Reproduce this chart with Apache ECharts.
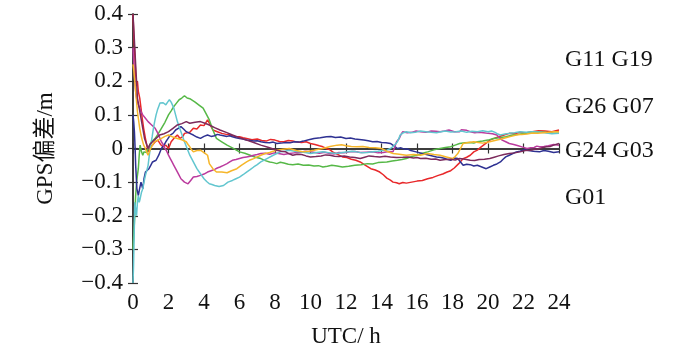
<!DOCTYPE html>
<html><head><meta charset="utf-8">
<script src="https://cdn.jsdelivr.net/npm/echarts@6/dist/echarts.min.js"></script>
<style>html,body{margin:0;padding:0;background:#fff}#c{width:700px;height:353px}</style>
</head><body><div id="c"></div>
<script>
var xTicks = [0,2,4,6,8,10,12,14,16,18,20,22,24];
var yTicks = [-0.4,-0.3,-0.2,-0.1,0,0.1,0.2,0.3,0.4];
var satLabels = ["G11 G19","G26 G07","G24 G03","G01"];
var labelY = [0.265, 0.125, -0.007, -0.145];
var seriesNames = ["G01","G03","G07","G11","G19","G24","G26"];

var red = [[0,0.40],[0.05,0.33],[0.1,0.28],[0.15,0.22],[0.2,0.19],[0.25,0.2],[0.3,0.17],[0.38,0.15],[0.45,0.12],[0.52,0.09],[0.6,0.06],[0.7,0.03],[0.85,-0.01],[0.95,0.005],[1.1,0.01],[1.25,0.02],[1.4,0.025],[1.55,0.012],[1.7,0.005],[1.85,0.01],[2,0],[2.15,0.02],[2.3,0.03],[2.4,0.025],[2.5,0.04],[2.65,0.03],[2.8,0.035],[2.9,0.045],[3,0.05],[3.2,0.048],[3.4,0.06],[3.6,0.058],[3.8,0.07],[4,0.068],[4.2,0.085],[4.35,0.07],[4.5,0.055],[4.75,0.05],[5,0.045],[5.25,0.042],[5.5,0.04],[5.75,0.036],[6,0.035],[6.2,0.032],[6.4,0.03],[6.7,0.026],[7,0.028],[7.25,0.024],[7.5,0.022],[7.75,0.027],[8,0.025],[8.25,0.021],[8.5,0.02],[8.75,0.024],[9,0.022],[9.25,0.019],[9.5,0.018],[9.75,0.02],[10,0.015],[10.25,0.012],[10.5,0.008],[10.7,0.005],[10.9,0],[11.1,-0.004],[11.3,-0.012],[11.55,-0.018],[11.8,-0.025],[12.05,-0.027],[12.3,-0.032],[12.55,-0.035],[12.8,-0.04],[13.1,-0.05],[13.4,-0.06],[13.65,-0.064],[13.9,-0.07],[14.1,-0.078],[14.3,-0.088],[14.5,-0.094],[14.65,-0.1],[14.85,-0.102],[15,-0.105],[15.2,-0.101],[15.4,-0.103],[15.7,-0.1],[16,-0.097],[16.3,-0.095],[16.6,-0.09],[16.9,-0.086],[17.2,-0.08],[17.45,-0.076],[17.7,-0.07],[17.9,-0.066],[18.1,-0.058],[18.35,-0.045],[18.6,-0.03],[18.8,-0.026],[19,-0.02],[19.2,-0.01],[19.4,-0.005],[19.6,0.004],[19.8,0.012],[19.95,0.018],[20.1,0.025],[20.35,0.03],[20.6,0.035],[20.9,0.04],[21.2,0.045],[21.5,0.044],[21.8,0.048],[22.1,0.046],[22.5,0.05],[22.85,0.053],[23.2,0.052],[23.6,0.05],[24,0.055]];
var green = [[0,-0.3],[0.05,-0.25],[0.1,-0.2],[0.15,-0.14],[0.2,-0.1],[0.25,-0.08],[0.3,-0.06],[0.35,-0.02],[0.4,0.01],[0.48,-0.01],[0.55,-0.02],[0.62,-0.01],[0.7,-0.005],[0.78,-0.012],[0.85,0],[0.95,0.012],[1.05,0.02],[1.15,0.018],[1.25,0.03],[1.4,0.042],[1.6,0.06],[1.8,0.078],[2,0.1],[2.15,0.112],[2.3,0.125],[2.45,0.135],[2.6,0.145],[2.75,0.15],[2.9,0.157],[3.05,0.15],[3.2,0.148],[3.35,0.143],[3.5,0.138],[3.7,0.13],[3.95,0.12],[4.1,0.105],[4.3,0.085],[4.5,0.055],[4.7,0.03],[5,0.02],[5.3,0.01],[5.6,0.002],[6,-0.01],[6.3,-0.014],[6.6,-0.02],[6.9,-0.026],[7.2,-0.03],[7.45,-0.036],[7.7,-0.04],[7.9,-0.042],[8.1,-0.045],[8.3,-0.041],[8.5,-0.043],[8.75,-0.047],[9,-0.048],[9.3,-0.046],[9.6,-0.05],[9.9,-0.049],[10.2,-0.052],[10.45,-0.051],[10.7,-0.055],[10.95,-0.053],[11.2,-0.05],[11.5,-0.052],[11.8,-0.055],[12.15,-0.053],[12.5,-0.05],[12.85,-0.048],[13.2,-0.045],[13.5,-0.046],[13.8,-0.042],[14.05,-0.041],[14.3,-0.04],[14.6,-0.037],[14.9,-0.035],[15.15,-0.033],[15.4,-0.03],[15.7,-0.024],[16,-0.02],[16.3,-0.014],[16.6,-0.01],[16.95,-0.004],[17.3,0],[17.6,0.003],[17.9,0.005],[18.15,0.01],[18.4,0.015],[18.7,0.017],[19,0.018],[19.2,0.016],[19.4,0.02],[19.7,0.022],[20,0.025],[20.3,0.03],[20.65,0.032],[21,0.035],[21.4,0.04],[21.7,0.042],[22,0.045],[22.25,0.047],[22.5,0.05],[22.85,0.049],[23.2,0.048],[23.6,0.046],[24,0.045]];
var navy = [[0,0.1],[0.04,0.08],[0.08,0.05],[0.12,0],[0.15,-0.05],[0.19,-0.09],[0.22,-0.12],[0.26,-0.13],[0.3,-0.14],[0.37,-0.12],[0.45,-0.1],[0.5,-0.11],[0.55,-0.12],[0.62,-0.09],[0.7,-0.07],[0.8,-0.065],[0.9,-0.06],[1,-0.05],[1.1,-0.04],[1.2,-0.042],[1.3,-0.035],[1.45,-0.02],[1.6,0],[1.72,0.008],[1.85,0.02],[1.95,0.028],[2.1,0.04],[2.25,0.045],[2.4,0.055],[2.55,0.06],[2.7,0.065],[2.85,0.058],[3,0.05],[3.2,0.045],[3.4,0.04],[3.6,0.034],[3.8,0.03],[4,0.036],[4.2,0.04],[4.4,0.036],[4.6,0.038],[4.75,0.042],[4.9,0.04],[5.1,0.038],[5.3,0.036],[5.45,0.038],[5.6,0.035],[5.8,0.032],[6,0.03],[6.2,0.028],[6.4,0.025],[6.6,0.024],[6.8,0.022],[7,0.023],[7.2,0.02],[7.45,0.018],[7.7,0.017],[7.9,0.019],[8.1,0.015],[8.35,0.016],[8.6,0.018],[8.85,0.017],[9.1,0.02],[9.35,0.019],[9.6,0.022],[9.9,0.026],[10.2,0.03],[10.55,0.032],[10.9,0.035],[11.15,0.036],[11.4,0.033],[11.7,0.034],[12,0.03],[12.25,0.031],[12.5,0.028],[12.75,0.027],[13,0.025],[13.25,0.023],[13.5,0.02],[13.75,0.021],[14,0.018],[14.25,0.017],[14.5,0.015],[14.7,0.008],[14.9,0],[15.1,0.002],[15.3,-0.002],[15.45,-0.001],[15.6,-0.005],[15.95,-0.01],[16.3,-0.015],[16.7,-0.02],[17.1,-0.025],[17.35,-0.027],[17.6,-0.03],[17.75,-0.033],[17.9,-0.035],[18.1,-0.028],[18.3,-0.03],[18.45,-0.04],[18.6,-0.05],[18.8,-0.047],[19,-0.048],[19.2,-0.052],[19.4,-0.05],[19.65,-0.055],[19.9,-0.06],[20.1,-0.055],[20.3,-0.05],[20.5,-0.046],[20.7,-0.04],[20.85,-0.032],[21,-0.025],[21.2,-0.02],[21.4,-0.015],[21.6,-0.01],[21.8,-0.008],[22,-0.004],[22.2,-0.005],[22.55,-0.008],[22.9,-0.01],[23.15,-0.006],[23.4,-0.008],[23.7,-0.012],[24,-0.01]];
var magenta = [[0,0.3],[0.05,0.25],[0.1,0.2],[0.15,0.17],[0.2,0.15],[0.25,0.14],[0.3,0.13],[0.38,0.12],[0.45,0.11],[0.5,0.115],[0.55,0.1],[0.62,0.095],[0.7,0.09],[0.78,0.085],[0.85,0.08],[0.95,0.075],[1.05,0.07],[1.15,0.065],[1.25,0.06],[1.35,0.05],[1.45,0.04],[1.52,0.03],[1.6,0.02],[1.7,0.012],[1.8,0],[1.9,-0.008],[2,-0.02],[2.1,-0.03],[2.2,-0.04],[2.3,-0.05],[2.4,-0.06],[2.55,-0.075],[2.7,-0.09],[2.8,-0.095],[2.9,-0.1],[3,-0.098],[3.1,-0.105],[3.25,-0.095],[3.4,-0.085],[3.6,-0.083],[3.8,-0.08],[4,-0.076],[4.2,-0.07],[4.4,-0.066],[4.6,-0.062],[4.75,-0.058],[4.9,-0.055],[5.1,-0.05],[5.3,-0.045],[5.45,-0.04],[5.6,-0.035],[5.8,-0.033],[6,-0.03],[6.2,-0.027],[6.4,-0.025],[6.6,-0.023],[6.8,-0.02],[7,-0.018],[7.2,-0.015],[7.45,-0.014],[7.7,-0.017],[7.95,-0.013],[8.2,-0.015],[8.5,-0.018],[8.8,-0.015],[9.1,-0.013],[9.4,-0.012],[9.7,-0.008],[10,-0.01],[10.25,-0.012],[10.5,-0.014],[10.8,-0.011],[11.1,-0.015],[11.35,-0.016],[11.6,-0.012],[11.9,-0.013],[12.2,-0.01],[12.5,-0.009],[12.8,-0.012],[13.15,-0.011],[13.5,-0.01],[13.8,-0.013],[14.1,-0.012],[14.4,-0.009],[14.65,-0.01],[14.75,0.005],[14.85,0.02],[14.92,0.025],[15,0.03],[15.1,0.042],[15.2,0.05],[15.45,0.047],[15.7,0.048],[15.95,0.052],[16.2,0.05],[16.5,0.048],[16.8,0.052],[17.05,0.051],[17.3,0.05],[17.55,0.052],[17.8,0.055],[18.1,0.05],[18.4,0.05],[18.5,0.056],[18.6,0.058],[18.8,0.054],[19,0.05],[19.25,0.047],[19.5,0.048],[19.75,0.047],[20,0.045],[20.25,0.044],[20.5,0.04],[20.65,0.032],[20.8,0.025],[21,0.02],[21.2,0.015],[21.45,0.012],[21.7,0.008],[21.95,0.004],[22.2,0],[22.4,0.002],[22.6,0.003],[22.75,0.007],[22.9,0.005],[23.15,0.006],[23.4,0.008],[23.7,0.012],[24,0.01]];
var cyan = [[0,-0.4],[0.03,-0.35],[0.05,-0.3],[0.08,-0.22],[0.1,-0.16],[0.15,-0.18],[0.2,-0.2],[0.25,-0.16],[0.3,-0.14],[0.35,-0.16],[0.4,-0.15],[0.48,-0.13],[0.55,-0.12],[0.62,-0.1],[0.7,-0.08],[0.78,-0.065],[0.85,-0.05],[0.92,-0.02],[1,0.01],[1.08,0.035],[1.15,0.06],[1.22,0.08],[1.3,0.1],[1.38,0.115],[1.45,0.125],[1.52,0.135],[1.6,0.14],[1.7,0.136],[1.85,0.13],[1.95,0.138],[2.05,0.145],[2.15,0.138],[2.3,0.12],[2.4,0.1],[2.5,0.08],[2.6,0.065],[2.7,0.05],[2.8,0.035],[2.9,0.02],[3.05,0],[3.2,-0.02],[3.4,-0.04],[3.6,-0.06],[3.8,-0.075],[4,-0.09],[4.15,-0.098],[4.3,-0.105],[4.45,-0.107],[4.6,-0.11],[4.85,-0.113],[5.1,-0.11],[5.35,-0.1],[5.6,-0.095],[5.8,-0.09],[6,-0.085],[6.2,-0.078],[6.4,-0.07],[6.6,-0.063],[6.8,-0.055],[7,-0.048],[7.2,-0.04],[7.55,-0.03],[7.9,-0.02],[8.1,-0.015],[8.3,-0.01],[8.55,-0.008],[8.8,-0.005],[9.1,-0.008],[9.4,-0.01],[9.7,-0.012],[10,-0.015],[10.35,-0.012],[10.7,-0.01],[11.1,-0.013],[11.5,-0.015],[11.8,-0.012],[12.1,-0.01],[12.35,-0.008],[12.6,-0.01],[12.9,-0.013],[13.2,-0.012],[13.5,-0.01],[13.8,-0.008],[14.05,-0.006],[14.3,-0.005],[14.4,-0.002],[14.5,0],[14.7,0.008],[14.9,0.02],[14.98,0.03],[15.05,0.04],[15.2,0.046],[15.4,0.05],[15.65,0.047],[15.9,0.048],[16.2,0.052],[16.5,0.05],[16.8,0.048],[17.1,0.047],[17.35,0.05],[17.6,0.052],[17.9,0.049],[18.2,0.05],[18.5,0.052],[18.8,0.048],[19.1,0.051],[19.4,0.05],[19.7,0.053],[20,0.05],[20.2,0.052],[20.4,0.048],[20.55,0.043],[20.7,0.04],[20.95,0.043],[21.2,0.045],[21.5,0.047],[21.8,0.05],[22.15,0.048],[22.5,0.05],[22.85,0.049],[23.2,0.047],[23.6,0.044],[24,0.045]];
var yellow = [[0,0.25],[0.05,0.23],[0.1,0.2],[0.15,0.17],[0.2,0.14],[0.25,0.11],[0.3,0.09],[0.38,0.06],[0.45,0.04],[0.52,0.025],[0.6,0.01],[0.65,0.005],[0.7,0],[0.78,-0.012],[0.85,-0.02],[0.92,-0.01],[1,0],[1.1,0.01],[1.2,0.02],[1.4,0.025],[1.6,0.03],[1.8,0.036],[2,0.04],[2.25,0.034],[2.5,0.03],[2.75,0.026],[3,0.02],[3.1,0.012],[3.2,0.005],[3.3,-0.004],[3.4,-0.01],[3.6,-0.006],[3.8,-0.005],[4,-0.012],[4.2,-0.02],[4.25,-0.032],[4.3,-0.045],[4.5,-0.06],[4.7,-0.07],[5,-0.07],[5.3,-0.072],[5.55,-0.066],[5.85,-0.06],[6.1,-0.05],[6.4,-0.04],[6.6,-0.034],[6.8,-0.03],[7,-0.025],[7.2,-0.02],[7.45,-0.015],[7.7,-0.012],[7.9,-0.008],[8.1,-0.005],[8.45,-0.002],[8.8,0],[9.2,-0.006],[9.6,-0.01],[9.9,-0.008],[10.2,-0.005],[10.45,-0.002],[10.7,0],[11.1,0.006],[11.5,0.01],[11.75,0.011],[12,0.008],[12.3,0.006],[12.6,0.005],[12.95,0.006],[13.3,0.003],[13.65,0.002],[14,0],[14.3,-0.008],[14.65,-0.015],[15,-0.017],[15.4,-0.02],[15.8,-0.018],[16.2,-0.02],[16.4,-0.017],[16.6,-0.015],[16.95,-0.018],[17.3,-0.02],[17.65,-0.025],[18,-0.03],[18.15,-0.024],[18.3,-0.015],[18.45,0],[18.6,0.015],[18.9,0.018],[19.2,0.02],[19.45,0.018],[19.7,0.016],[20.1,0.02],[20.5,0.025],[20.75,0.028],[21,0.032],[21.3,0.036],[21.6,0.04],[21.9,0.042],[22.2,0.043],[22.5,0.046],[22.8,0.045],[23.1,0.047],[23.4,0.048],[23.7,0.05],[24,0.05]];
var maroon = [[0,0.4],[0.05,0.35],[0.1,0.3],[0.15,0.25],[0.2,0.2],[0.25,0.15],[0.35,0.12],[0.45,0.09],[0.55,0.06],[0.65,0.03],[0.75,0.015],[0.85,0],[0.95,0.012],[1.1,0.02],[1.3,0.03],[1.5,0.04],[1.75,0.044],[2,0.05],[2.25,0.06],[2.5,0.07],[2.75,0.074],[3,0.08],[3.1,0.077],[3.2,0.075],[3.5,0.078],[3.8,0.08],[4.05,0.075],[4.3,0.07],[4.6,0.062],[4.9,0.055],[5.25,0.048],[5.6,0.04],[6,0.032],[6.4,0.025],[6.8,0.018],[7.2,0.01],[7.65,0.003],[8.1,-0.005],[8.35,-0.008],[8.6,-0.01],[8.8,-0.016],[9,-0.02],[9.25,-0.017],[9.5,-0.018],[9.75,-0.022],[10,-0.025],[10.3,-0.024],[10.6,-0.022],[10.85,-0.019],[11.1,-0.02],[11.35,-0.023],[11.6,-0.024],[11.9,-0.022],[12.2,-0.025],[12.5,-0.027],[12.8,-0.03],[13.05,-0.026],[13.3,-0.022],[13.6,-0.024],[13.9,-0.025],[14.2,-0.023],[14.5,-0.025],[14.85,-0.027],[15.2,-0.026],[15.5,-0.025],[15.8,-0.028],[16,-0.027],[16.2,-0.03],[16.5,-0.029],[16.8,-0.032],[17.05,-0.031],[17.3,-0.035],[17.6,-0.033],[17.9,-0.032],[18.15,-0.034],[18.4,-0.03],[18.7,-0.032],[19,-0.035],[19.25,-0.036],[19.5,-0.033],[19.8,-0.032],[20.1,-0.03],[20.35,-0.026],[20.6,-0.022],[20.9,-0.018],[21.2,-0.015],[21.5,-0.013],[21.8,-0.01],[22.1,-0.006],[22.4,-0.005],[22.65,-0.002],[22.9,0],[23.1,0.003],[23.3,0.005],[23.5,0.006],[23.7,0.01],[24,0.015]];

var lines = [
  {data: red, color: '#e8282a'},
  {data: green, color: '#56b847'},
  {data: navy, color: '#2e3192'},
  {data: magenta, color: '#bb3b9e'},
  {data: cyan, color: '#62c6cf'},
  {data: yellow, color: '#f6b62a'},
  {data: maroon, color: '#7c2a5c'}
];

var chart = echarts.init(document.getElementById('c'), null, {renderer: 'canvas'});
var font = '"Liberation Serif", "Times New Roman", serif';
var axisLine = {show: true, lineStyle: {color: '#333', width: 1.5}};
var tick = {show: true, inside: true, length: 5, lineStyle: {color: '#333', width: 1.2}};
var series = lines.map(function (l, i) {
  return {type: 'line', name: seriesNames[i], data: l.data, symbol: 'none', smooth: false,
    lineStyle: {color: l.color, width: 1.5}, xAxisIndex: 0, yAxisIndex: 0, animation: false};
});
series.push({type: 'custom', silent: true, animation: false, xAxisIndex: 0, yAxisIndex: 0, clip: false,
  data: labelY.map(function (v, i) { return [24, v, i]; }),
  renderItem: function (params, api) {
    var p = api.coord([api.value(0), api.value(1)]);
    return {type: 'text', x: p[0] + 6, y: p[1],
      style: {text: satLabels[api.value(2)], fill: '#111', font: '24px ' + font,
        textAlign: 'left', textVerticalAlign: 'middle'}};
  }});

chart.setOption({
  animation: false,
  grid: {left: 133, top: 14, width: 426, height: 271, containLabel: false},
  xAxis: [
    {type: 'value', min: 0, max: 24, interval: 2, position: 'bottom',
      name: 'UTC/ h', nameLocation: 'middle', nameGap: 42,
      nameTextStyle: {fontFamily: font, fontSize: 23, color: '#111'},
      axisLine: axisLine, axisTick: tick, splitLine: {show: false},
      axisLabel: {fontFamily: font, fontSize: 23, color: '#111', margin: 8}},
    {type: 'value', min: 0, max: 24, interval: 2, position: 'top',
      axisLine: axisLine, axisTick: tick, splitLine: {show: false}, axisLabel: {show: false}}
  ],
  yAxis: [
    {type: 'value', min: -0.4, max: 0.4, interval: 0.1, position: 'left',
      name: 'GPS偏差/m', nameLocation: 'middle', nameGap: 76, nameRotate: 90,
      nameTextStyle: {fontFamily: '"Liberation Serif", "Noto Sans CJK SC", serif', fontSize: 23, color: '#111'},
      axisLine: axisLine, axisTick: tick, splitLine: {show: false},
      axisLabel: {fontFamily: font, fontSize: 23, color: '#111', margin: 10,
        formatter: function (v) { var s = (Math.round(v * 10) / 10).toString(); return s.replace('-', '\u2212'); }}},
    {type: 'value', min: -0.4, max: 0.4, interval: 0.1, position: 'right',
      axisLine: axisLine, axisTick: tick, splitLine: {show: false}, axisLabel: {show: false}}
  ],
  series: series
});
</script></body></html>
